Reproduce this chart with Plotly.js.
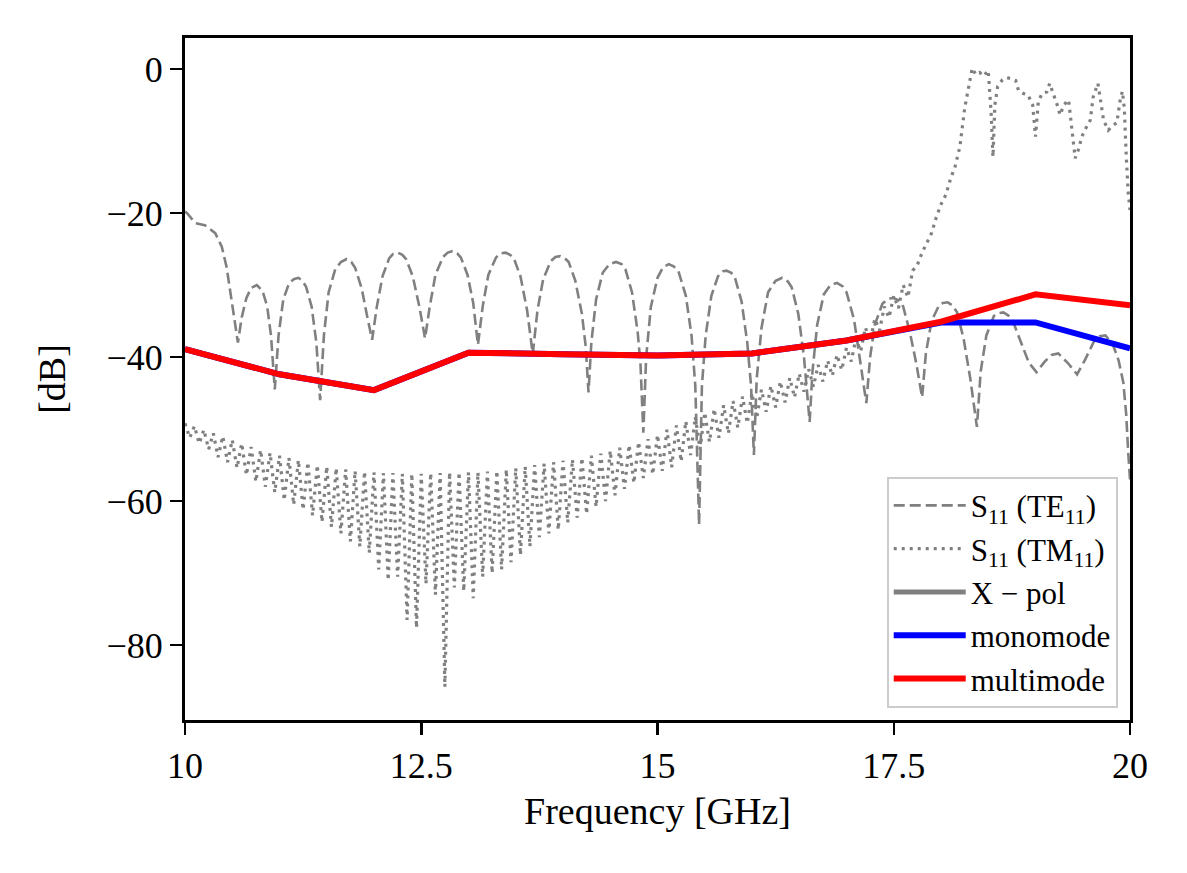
<!DOCTYPE html>
<html>
<head>
<meta charset="utf-8">
<script src="https://cdn.plot.ly/plotly-3.0.1.min.js"></script>
<style>
  html, body { margin: 0; padding: 0; background: #fff; }
  #myDiv { width: 1187px; height: 873px; }
</style>
</head>
<body>
<div id="myDiv"></div>
<script>
// S11 of the TE11 mode (dashed)
var teFreq = [10.00, 10.02, 10.11, 10.21, 10.32, 10.39, 10.44, 10.49, 10.56,
  10.60, 10.65, 10.70, 10.76, 10.82, 10.87, 10.91, 10.95,
  10.99, 11.04, 11.10, 11.15, 11.20, 11.24, 11.28, 11.34, 11.39, 11.43,
  11.47, 11.52, 11.59, 11.65, 11.71, 11.76, 11.80, 11.87, 11.93, 11.98,
  12.03, 12.09, 12.16, 12.20, 12.25, 12.30, 12.34, 12.41, 12.48, 12.54,
  12.59, 12.65, 12.73, 12.78, 12.83, 12.88, 12.92, 12.99, 13.05, 13.10,
  13.15, 13.21, 13.29, 13.34, 13.39, 13.44, 13.48, 13.55, 13.62, 13.68,
  13.73, 13.79, 13.87, 13.92, 13.97, 14.02, 14.06, 14.13, 14.20, 14.24, 14.27,
  14.30, 14.35, 14.42, 14.49, 14.56, 14.62, 14.66, 14.73, 14.79, 14.82, 14.85,
  14.88, 14.93, 15.00, 15.06, 15.12, 15.17, 15.22, 15.30, 15.36, 15.40, 15.44,
  15.47, 15.51, 15.57, 15.64, 15.69, 15.73, 15.78, 15.82, 15.89, 15.95, 15.99, 16.02,
  16.05, 16.10, 16.17, 16.25, 16.32, 16.38, 16.42, 16.49, 16.55, 16.61,
  16.64, 16.69, 16.76, 16.83, 16.90, 16.96, 17.00, 17.08, 17.14, 17.21,
  17.25, 17.30, 17.38, 17.44, 17.50, 17.56, 17.60, 17.67, 17.74, 17.80,
  17.84, 17.90, 17.98, 18.02, 18.07, 18.12, 18.17, 18.24, 18.31, 18.38,
  18.42, 18.48, 18.56, 18.61, 18.66, 18.71, 18.76, 18.84, 18.93, 19.01,
  19.10, 19.17, 19.24, 19.34, 19.44, 19.52, 19.62, 19.68, 19.74, 19.82, 19.88, 19.93, 19.96, 19.98, 20.00];
var teS11 = [-19.8, -20.0, -21.4, -21.7, -22.8, -24.7, -27.5, -32.1, -38.0,
  -34.5, -31.8, -30.4, -30.0, -30.8, -33.0, -37.0, -44.5,
  -37.0, -32.0, -29.8, -29.2, -29.0, -29.4, -30.2, -33.0, -38.0, -46.0,
  -37.0, -31.0, -27.8, -26.8, -26.4, -26.8, -27.6, -30.5, -34.5, -37.6,
  -33.0, -28.8, -26.3, -25.7, -25.5, -25.8, -26.4, -28.8, -33.0, -37.4,
  -33.0, -28.6, -26.1, -25.5, -25.3, -25.6, -26.2, -28.6, -32.5, -38.3,
  -33.0, -28.6, -26.2, -25.6, -25.5, -25.8, -26.3, -28.8, -33.5, -39.6,
  -33.5, -29.2, -26.7, -26.1, -26.0, -26.3, -26.8, -29.4, -34.0, -38.5, -44.9,
  -38.0, -32.0, -28.3, -27.1, -26.8, -27.1, -27.8, -31.0, -36.5, -41.0, -50.5,
  -40.0, -33.0, -29.0, -27.5, -27.1, -27.4, -28.0, -31.5, -37.0, -44.0, -63.3,
  -44.0, -37.0, -31.5, -28.8, -28.1, -28.0, -28.3, -29.0, -32.3, -38.0, -44.0, -53.6,
  -43.0, -36.0, -31.0, -29.4, -29.0, -29.5, -30.3, -34.0, -40.0, -49.0,
  -42.0, -35.5, -31.3, -30.0, -29.7, -30.2, -31.0, -34.8, -40.0, -46.4,
  -40.0, -35.5, -32.6, -31.9, -31.8, -32.2, -33.0, -36.5, -41.0, -45.6,
  -39.5, -35.0, -32.8, -32.5, -32.4, -32.8, -33.8, -37.5, -43.0, -49.7,
  -42.0, -37.0, -34.3, -33.9, -33.8, -34.2, -35.0, -37.8, -40.8, -42.1,
  -40.6, -39.7, -39.5, -40.8, -42.4, -40.5, -37.8, -37.1, -37.0, -38.3, -40.5, -43.6, -48.0, -53.0, -57.0];

// S11 of the TM11 mode (dotted)
var tmFreq = [10.00, 10.05, 10.10, 10.15, 10.20, 10.25, 10.30, 10.35, 10.40, 10.45,
  10.50, 10.55, 10.60, 10.65, 10.70, 10.75, 10.80, 10.85, 10.90, 10.95,
  11.00, 11.05, 11.10, 11.15, 11.20, 11.25, 11.30, 11.35, 11.40, 11.45,
  11.50, 11.55, 11.60, 11.65, 11.70, 11.75, 11.80, 11.85, 11.90, 11.95,
  12.00, 12.05, 12.10, 12.15, 12.20, 12.25, 12.30, 12.35, 12.40, 12.45,
  12.50, 12.55, 12.60, 12.65, 12.70, 12.75, 12.80, 12.85, 12.90, 12.95,
  13.00, 13.05, 13.10, 13.15, 13.20, 13.25, 13.30, 13.35, 13.40, 13.45,
  13.50, 13.55, 13.60, 13.65, 13.70, 13.75, 13.80, 13.85, 13.90, 13.95,
  14.00, 14.05, 14.10, 14.15, 14.20, 14.25, 14.30, 14.35, 14.40, 14.45,
  14.50, 14.55, 14.60, 14.65, 14.70, 14.75, 14.80, 14.85, 14.90, 14.95,
  15.00, 15.05, 15.10, 15.15, 15.20, 15.25, 15.30, 15.35, 15.40, 15.45,
  15.50, 15.55, 15.60, 15.65, 15.70, 15.75, 15.80, 15.85, 15.90, 15.95,
  16.00, 16.05, 16.10, 16.15, 16.20, 16.25, 16.30, 16.35, 16.40, 16.45,
  16.50, 16.55, 16.60, 16.65, 16.70, 16.75, 16.80, 16.85, 16.90, 16.95,
  17.00, 17.05, 17.10, 17.15, 17.20, 17.25, 17.30, 17.35, 17.40, 17.45,
  17.50, 17.55, 17.60, 17.65, 17.70, 17.75, 17.80, 17.85, 17.90, 17.95,
  18.00, 18.05, 18.10, 18.15, 18.20, 18.25, 18.30, 18.33, 18.37, 18.41,
  18.45, 18.50, 18.53, 18.55, 18.57, 18.60, 18.65, 18.70, 18.75, 18.79,
  18.82, 18.87, 18.92, 18.97, 19.00, 19.03, 19.07, 19.12, 19.15, 19.19,
  19.23, 19.26, 19.30, 19.35, 19.38, 19.42, 19.46, 19.49, 19.53, 19.58,
  19.61, 19.66, 19.69, 19.72, 19.77, 19.82, 19.86, 19.90, 19.92, 19.94,
  19.96, 19.98, 20.00];
var tmS11 = [-49.2, -51.2, -49.6, -52.0, -50.1, -52.8, -50.6, -53.9, -51.0, -54.6,
  -51.5, -55.4, -52.0, -56.4, -52.5, -57.3, -52.9, -58.0, -53.3, -58.8,
  -53.7, -59.9, -54.0, -60.5, -54.3, -61.2, -54.6, -62.0, -55.0, -62.9,
  -55.2, -63.6, -55.4, -64.5, -55.6, -65.6, -55.8, -66.3, -55.9, -67.2,
  -56.0, -69.5, -56.1, -71.0, -56.1, -70.5, -56.2, -76.5, -56.2, -77.6,
  -56.2, -71.5, -56.1, -73.0, -56.1, -85.8, -56.0, -72.0, -56.0, -72.5,
  -56.0, -73.5, -56.0, -70.5, -55.9, -70.0, -55.8, -69.5, -55.6, -68.5,
  -55.4, -67.5, -55.2, -66.3, -55.0, -65.0, -54.8, -64.5, -54.6, -64.0,
  -54.4, -63.0, -54.2, -62.3, -54.0, -61.8, -53.7, -60.8, -53.4, -60.0,
  -53.0, -59.2, -52.6, -58.3, -52.2, -57.5, -51.8, -56.8, -51.4, -56.3,
  -50.8, -55.8, -50.1, -55.3, -49.5, -54.5, -48.9, -53.6, -48.3, -52.8,
  -47.7, -51.8, -47.2, -51.2, -46.7, -50.6, -46.1, -49.8, -45.5, -49.2,
  -45.0, -48.5, -44.5, -47.6, -44.0, -47.0, -43.4, -46.3, -42.9, -45.6,
  -42.3, -44.8, -41.7, -44.1, -41.1, -43.4, -40.5, -42.6, -39.7, -41.8,
  -38.7, -40.6, -37.4, -39.2, -35.9, -37.8, -34.7, -36.3, -33.0, -34.5,
  -31.5, -33.2, -30.0, -31.7, -28.0, -27.2, -25.5, -24.2, -22.8, -20.6,
  -18.8, -17.5, -15.3, -13.5, -10.8, -5.5, -1.8, 0.1, -0.8, -0.5,
  -1.0, -0.2, -6.0, -12.2, -5.0, -2.4, -1.5, -1.2, -1.4, -1.6,
  -3.0, -3.4, -3.6, -5.0, -9.4, -4.5, -3.4, -3.2, -2.0, -3.4,
  -5.0, -6.4, -5.0, -4.3, -7.5, -12.4, -11.0, -9.4, -8.3, -7.1,
  -3.9, -2.0, -4.5, -7.1, -8.5, -7.8, -7.5, -4.0, -3.1, -5.5,
  -12.0, -17.0, -19.6];

// cross-polarisation levels
var polFreq = [10, 11, 12, 13, 14, 15, 16, 17, 18, 19, 20];
var monomode = [-38.9, -42.4, -44.6, -39.4, -39.6, -39.8, -39.5, -37.7, -35.2, -35.2, -38.8];
var multimode = [-38.9, -42.4, -44.6, -39.4, -39.6, -39.8, -39.5, -37.7, -35.1, -31.3, -32.8];

var xTicks = [10, 12.5, 15, 17.5, 20];
var xTickText = ['10', '12.5', '15', '17.5', '20'];
var yTicks = [0, -20, -40, -60, -80];

var grey = '#808080';
var serif = '"Liberation Serif", "Times New Roman", serif';

var data = [
  {x: teFreq, y: teS11, type: 'scatter', mode: 'lines', name: 'S<sub>11</sub> (TE<sub>11</sub>)',
   line: {color: grey, width: 2.6, dash: '11px,5px'}},
  {x: tmFreq, y: tmS11, type: 'scatter', mode: 'lines', name: 'S<sub>11</sub> (TM<sub>11</sub>)',
   line: {color: grey, width: 3.2, dash: '3px,5px'}},
  {x: [null], y: [null], type: 'scatter', mode: 'lines', name: 'X \u2212 pol',
   line: {color: grey, width: 5}},
  {x: polFreq, y: monomode, type: 'scatter', mode: 'lines', name: 'monomode',
   line: {color: '#0000ff', width: 6}},
  {x: polFreq, y: multimode, type: 'scatter', mode: 'lines', name: 'multimode',
   line: {color: '#ff0000', width: 6}}
];

var layout = {
  width: 1187,
  height: 873,
  margin: {l: 185, r: 57, t: 38, b: 153},
  paper_bgcolor: '#ffffff',
  plot_bgcolor: '#ffffff',
  font: {family: serif, color: '#000000', size: 36},
  showlegend: true,
  xaxis: {
    range: [10, 20],
    tickvals: xTicks,
    ticktext: xTickText,
    ticks: 'outside',
    ticklen: 12,
    tickwidth: 2.5,
    tickcolor: '#000',
    showline: true,
    linewidth: 3,
    linecolor: '#000',
    mirror: true,
    showgrid: false,
    zeroline: false,
    tickfont: {size: 36},
    title: {text: 'Frequency [GHz]', font: {size: 38}, standoff: 13}
  },
  yaxis: {
    range: [-90.4, 4.3],
    tickvals: yTicks,
    ticks: 'outside',
    ticklen: 12,
    tickwidth: 2.5,
    tickcolor: '#000',
    showline: true,
    linewidth: 3,
    linecolor: '#000',
    mirror: true,
    showgrid: false,
    zeroline: false,
    tickfont: {size: 36},
    title: {text: '[dB]', font: {size: 38}, standoff: 30}
  },
  legend: {
    x: 0.987,
    y: 0.018,
    xanchor: 'right',
    yanchor: 'bottom',
    bgcolor: 'rgba(255,255,255,0.8)',
    bordercolor: '#cccccc',
    borderwidth: 2,
    itemwidth: 72,
    font: {size: 31, family: serif}
  }
};

Plotly.newPlot('myDiv', data, layout, {staticPlot: true});
</script>
</body>
</html>
